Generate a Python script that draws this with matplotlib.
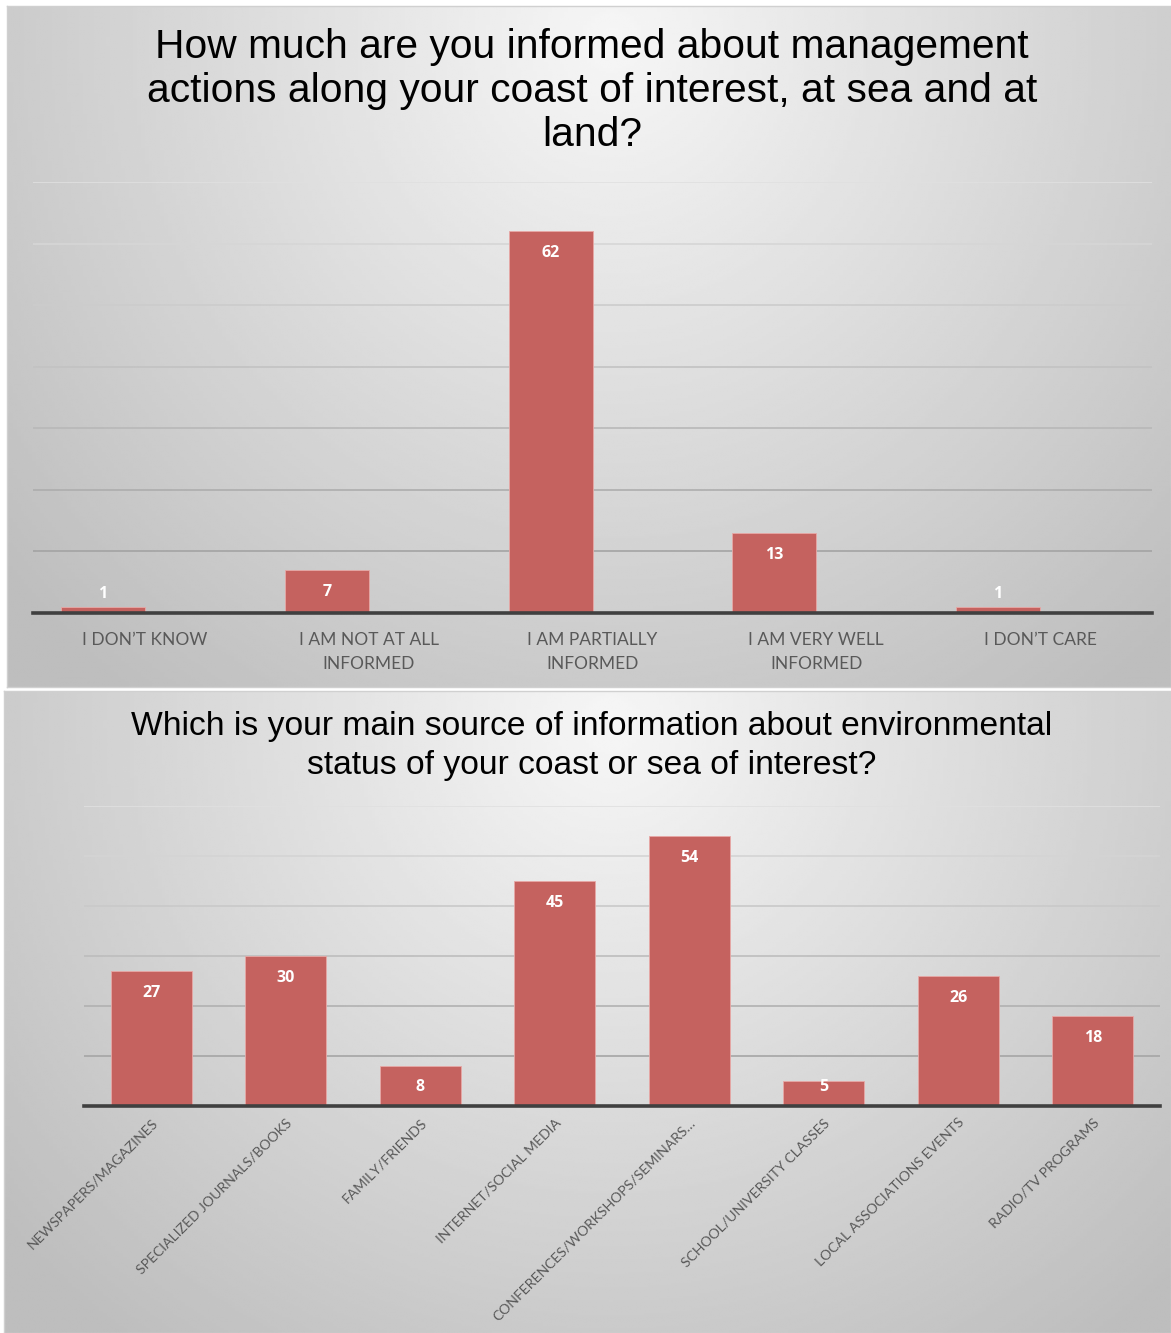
"""
Two survey bar charts stacked on one page, styled like the Excel originals.
"""
import numpy as np
import matplotlib
matplotlib.use("Agg")
import matplotlib.pyplot as plt
from matplotlib.colors import to_hex


# --- data -------------------------------------------------------------------
informed_labels = [
    "I DON\u2019T KNOW",
    "I AM NOT AT ALL\nINFORMED",
    "I AM PARTIALLY\nINFORMED",
    "I AM VERY WELL\nINFORMED",
    "I DON\u2019T CARE",
]
informed_counts = [1, 7, 62, 13, 1]

source_labels = [
    "NEWSPAPERS/MAGAZINES",
    "SPECIALIZED JOURNALS/BOOKS",
    "FAMILY/FRIENDS",
    "INTERNET/SOCIAL MEDIA",
    "CONFERENCES/WORKSHOPS/SEMINARS\u2026",
    "SCHOOL/UNIVERSITY CLASSES",
    "LOCAL ASSOCIATIONS EVENTS",
    "RADIO/TV PROGRAMS",
]
source_counts = [27, 30, 8, 45, 54, 5, 26, 18]

title_top = ("How much are you informed about management\n"
             "actions along your coast of interest, at sea and at\nland?")
title_bottom = ("Which is your main source of information about environmental\n"
                "status of your coast or sea of interest?")

# --- layout helpers (pixel boxes measured on a 1171x1333 canvas) ------------
W, H = 1171, 1333
BAR_COLOR = "#C5625F"
TEXT_GRAY = "#595959"
LABEL_FONT = ["Lato", "DejaVu Sans"]
VALUE_FONT = ["Open Sans", "DejaVu Sans"]
TITLE_FONT = ["Liberation Sans", "DejaVu Sans"]


def box(x0, y0, x1, y1):
    return [x0 / W, 1 - y1 / H, (x1 - x0) / W, (y1 - y0) / H]


def gradient_panel(fig, rect):
    ax = fig.add_axes(rect, zorder=0)
    xx, yy = np.meshgrid(np.linspace(0, 1, 300), np.linspace(0, 1, 300))
    d = np.sqrt(((xx - 0.52) / 0.62) ** 2 + ((yy - 0.05) / 1.1) ** 2)
    shade = 0.965 - 0.20 * np.clip(d, 0, 1.1)
    ax.imshow(shade, cmap="gray", vmin=0, vmax=1, aspect="auto",
              extent=(0, 1, 1, 0), interpolation="bilinear")
    ax.set_xlim(0, 1)
    ax.set_ylim(1, 0)
    ax.set_xticks([])
    ax.set_yticks([])
    for s in ax.spines.values():
        s.set_color("#d0d0d0")
        s.set_linewidth(1)
    return ax


def bar_chart(fig, rect, counts, ymax, step, bar_width, bar_shift, label_pad_pt):
    ax = fig.add_axes(rect, zorder=2)
    ax.patch.set_alpha(0)
    x = np.arange(len(counts))
    bars = ax.bar(x + bar_shift, counts, width=bar_width, color=BAR_COLOR,
                  edgecolor="#e8a8a6", linewidth=0.6, zorder=3)
    ax.set_xlim(-0.5, len(counts) - 0.5)
    ax.set_ylim(0, ymax)
    ticks = np.arange(0, ymax + 1, step)
    ax.set_yticks(ticks)
    ax.yaxis.grid(True, linewidth=1.2, zorder=0)
    # gridlines fade out toward the light top of the panel
    for tick, line in zip(ticks, ax.get_ygridlines()):
        f = tick / ymax
        g = 0.60 + 0.28 * f
        line.set_color(to_hex((g, g, g)))
    ax.set_axisbelow(True)
    ax.tick_params(axis="y", left=False, labelleft=False)
    ax.tick_params(axis="x", bottom=False, pad=label_pad_pt)
    for side in ("top", "right", "left"):
        ax.spines[side].set_visible(False)
    ax.spines["bottom"].set_color("#404040")
    ax.spines["bottom"].set_linewidth(2.6)
    ax.spines["bottom"].set_zorder(4)

    # value labels: inside the top of the bar, or just above the axis when short
    px_per_unit = rect[3] * H / ymax
    for rect_bar, v in zip(bars, counts):
        cx = rect_bar.get_x() + rect_bar.get_width() / 2
        if v * px_per_unit > 40:
            xy, dy = (cx, v), -16
        else:
            xy, dy = (cx, 0), 14
        ax.annotate(str(v), xy, xytext=(0, dy), textcoords="offset points",
                    ha="center", va="center", color="white", fontsize=11.5,
                    fontweight="bold", family=VALUE_FONT, zorder=5)
    ax.set_xticks(x)
    return ax


fig = plt.figure(figsize=(W / 100, H / 100), dpi=100)
fig.patch.set_facecolor("white")

# top chart (bars sit left of the category centre, as in the source workbook)
gradient_panel(fig, box(7, 6, 1171, 687))
ax1 = bar_chart(fig, box(33, 182, 1152, 613), informed_counts,
                70, 10, 0.375, -0.1875, 10)
ax1.set_xticklabels(informed_labels, fontsize=12.5, color=TEXT_GRAY,
                    family=LABEL_FONT, linespacing=1.6)
fig.text(592 / W, 1 - 28 / H, title_top, ha="center", va="top", fontsize=29.3,
         family=TITLE_FONT, color="black", linespacing=1.2)

# bottom chart
gradient_panel(fig, box(4, 691, 1171, 1333))
ax2 = bar_chart(fig, box(84, 806, 1160, 1106), source_counts,
                60, 10, 0.6, 0.0, 4)
ax2.set_xticklabels(source_labels, fontsize=10.1, color=TEXT_GRAY,
                    family=LABEL_FONT, rotation=45, ha="right",
                    rotation_mode="anchor")
fig.text(592 / W, 1 - 711 / H, title_bottom, ha="center", va="top", fontsize=24.2,
         family=TITLE_FONT, color="black", linespacing=1.32)

fig.savefig("out.png", dpi=100)
